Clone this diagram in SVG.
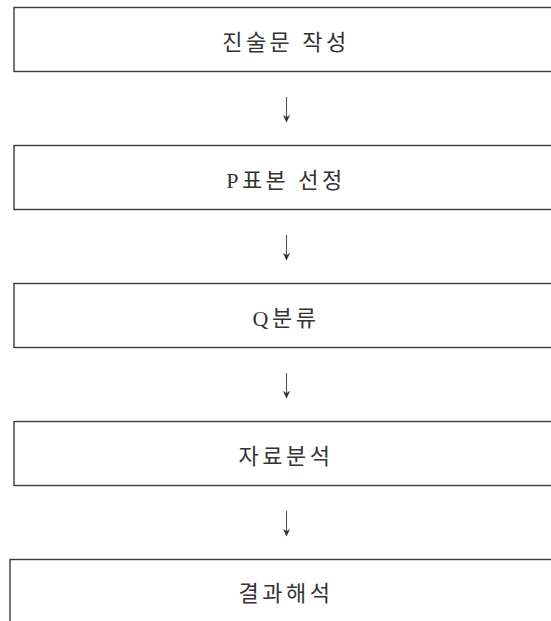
<svg xmlns="http://www.w3.org/2000/svg" width="551" height="621" viewBox="0 0 551 621">
<style>
.box{fill:#fff;stroke:#3a3a3a;stroke-width:1.4}
.lbl{font-family:"Liberation Serif","Noto Sans CJK KR",serif;font-size:22px;fill:#333;text-anchor:middle;letter-spacing:3.5px}
.conn{stroke:#555;stroke-width:1.1;fill:none}
</style>
<defs>
<marker id="ah" viewBox="0 0 10 10" refX="9" refY="5" markerWidth="8" markerHeight="8" orient="auto" markerUnits="userSpaceOnUse">
<path d="M0,0.5 L9.5,5 L0,9.5 L3,5 Z" fill="#333"/>
</marker>
</defs>
<rect width="551" height="621" fill="#fff"/>
<g id="node1"><rect class="box" x="14" y="7.5" width="560" height="64"/><text class="lbl" x="286" y="50">진술문 작성</text></g>
<g id="node2"><rect class="box" x="14" y="145.5" width="560" height="64"/><text class="lbl" x="286" y="188">P표본 선정</text></g>
<g id="node3"><rect class="box" x="14" y="283.5" width="560" height="64"/><text class="lbl" x="286" y="326">Q분류</text></g>
<g id="node4"><rect class="box" x="14" y="421.5" width="560" height="64"/><text class="lbl" x="286" y="464">자료분석</text></g>
<g id="node5"><rect class="box" x="10" y="559.5" width="560" height="80"/><text class="lbl" x="286" y="601">결과해석</text></g>
<g id="connectors">
<line class="conn" x1="286.5" y1="97" x2="286.5" y2="122" marker-end="url(#ah)"/>
<line class="conn" x1="286.5" y1="235" x2="286.5" y2="260" marker-end="url(#ah)"/>
<line class="conn" x1="286.5" y1="373" x2="286.5" y2="398" marker-end="url(#ah)"/>
<line class="conn" x1="286.5" y1="511" x2="286.5" y2="536" marker-end="url(#ah)"/>
</g>
</svg>
